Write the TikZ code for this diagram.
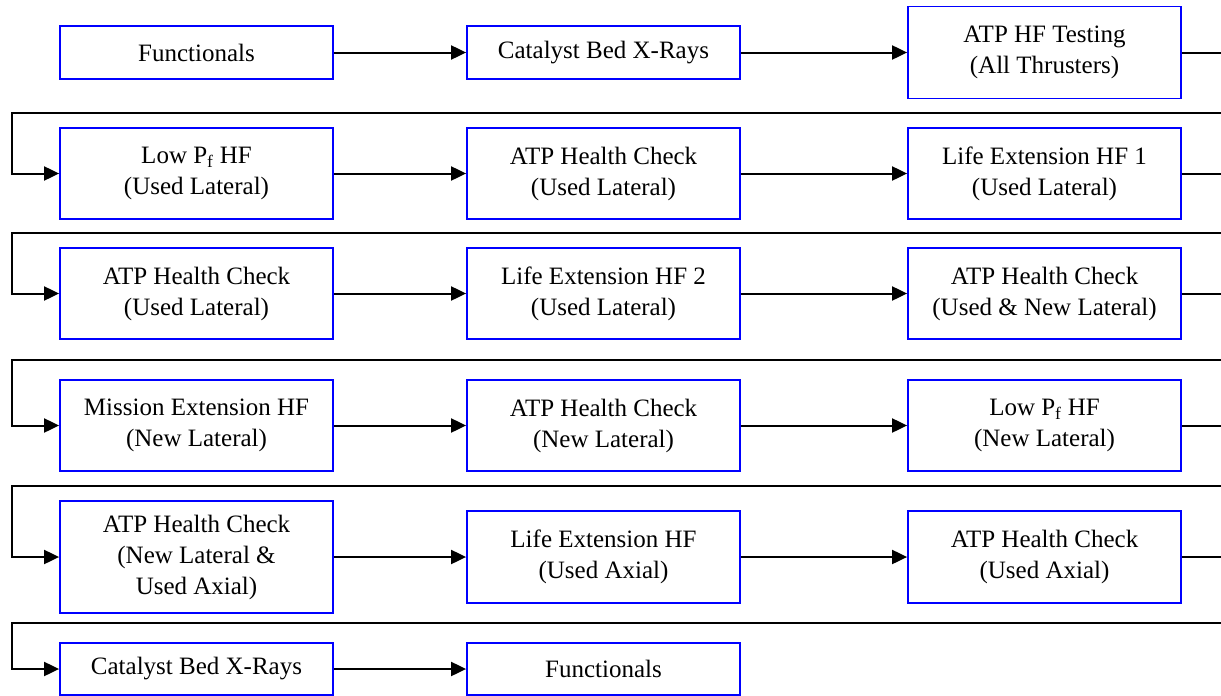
\documentclass[tikz,border=0pt]{standalone}
\usepackage{fontspec}
\setmainfont{Liberation Serif}
\newfontfamily\boxfont{Liberation Serif}
\usetikzlibrary{arrows.meta}
\definecolor{boxblue}{RGB}{0,0,255}
\tikzset{
  stepbox/.style={draw=boxblue, line width=1.8pt, fill=white, rectangle, inner sep=0pt,
    minimum width=273pt, align=center, font=\boxfont\fontsize{25}{31}\selectfont},
  flow/.style={draw=black, line width=2pt, -{Triangle[length=15pt,width=14pt]}},
}
\begin{document}
\begin{tikzpicture}[x=1pt,y=-1pt]
\useasboundingbox (0,0) rectangle (1221,696);
\clip (0,0) rectangle (1221,696);
% row 1
\node[stepbox, minimum height=53pt] (a1) at (196.5,52.5) {Functionals};
\node[stepbox, minimum height=53pt] (a2) at (603.5,52.5) {Catalyst Bed X-Rays};
\node[stepbox, minimum height=92pt] (a3) at (1044.5,52.5) {ATP HF Testing\\(All Thrusters)};
% row 2
\node[stepbox, minimum height=91pt] (b1) at (196.5,173.5) {Low P\textsubscript{f} HF\\(Used Lateral)};
\node[stepbox, minimum height=91pt] (b2) at (603.5,173.5) {ATP Health Check\\(Used Lateral)};
\node[stepbox, minimum height=91pt] (b3) at (1044.5,173.5) {Life Extension HF 1\\(Used Lateral)};
% row 3
\node[stepbox, minimum height=91pt] (c1) at (196.5,293.5) {ATP Health Check\\(Used Lateral)};
\node[stepbox, minimum height=91pt] (c2) at (603.5,293.5) {Life Extension HF 2\\(Used Lateral)};
\node[stepbox, minimum height=91pt] (c3) at (1044.5,293.5) {ATP Health Check\\(Used \& New Lateral)};
% row 4
\node[stepbox, minimum height=91pt] (d1) at (196.5,425.5) {Mission Extension HF\\(New Lateral)};
\node[stepbox, minimum height=91pt] (d2) at (603.5,425.5) {ATP Health Check\\(New Lateral)};
\node[stepbox, minimum height=91pt] (d3) at (1044.5,425.5) {Low P\textsubscript{f} HF\\(New Lateral)};
% row 5
\node[stepbox, minimum height=112pt] (e1) at (196.5,557) {ATP Health Check\\(New Lateral \&\\Used Axial)};
\node[stepbox, minimum height=92pt] (e2) at (603.5,557) {Life Extension HF\\(Used Axial)};
\node[stepbox, minimum height=92pt] (e3) at (1044.5,557) {ATP Health Check\\(Used Axial)};
% row 6
\node[stepbox, minimum height=52pt] (f1) at (196.5,669) {Catalyst Bed X-Rays};
\node[stepbox, minimum height=52pt] (f2) at (603.5,669) {Functionals};
% row connectors
\draw[flow] (a1) -- (a2);
\draw[flow] (a2) -- (a3);
\draw[flow] (b1) -- (b2);
\draw[flow] (b2) -- (b3);
\draw[flow] (c1) -- (c2);
\draw[flow] (c2) -- (c3);
\draw[flow] (d1) -- (d2);
\draw[flow] (d2) -- (d3);
\draw[flow] (e1) -- (e2);
\draw[flow] (e2) -- (e3);
\draw[flow] (f1) -- (f2);
% wrap connectors
\coordinate (wx) at (1230,0);
\coordinate (lx) at (12,0);
\draw[flow] (a3.east) -- (a3.east -| wx) -- (wx |- 0,113) -- (lx |- 0,113) |- (b1.west);
\draw[flow] (b3.east) -- (b3.east -| wx) -- (wx |- 0,233) -- (lx |- 0,233) |- (c1.west);
\draw[flow] (c3.east) -- (c3.east -| wx) -- (wx |- 0,360) -- (lx |- 0,360) |- (d1.west);
\draw[flow] (d3.east) -- (d3.east -| wx) -- (wx |- 0,486) -- (lx |- 0,486) |- (e1.west);
\draw[flow] (e3.east) -- (e3.east -| wx) -- (wx |- 0,623) -- (lx |- 0,623) |- (f1.west);
\end{tikzpicture}
\end{document}
